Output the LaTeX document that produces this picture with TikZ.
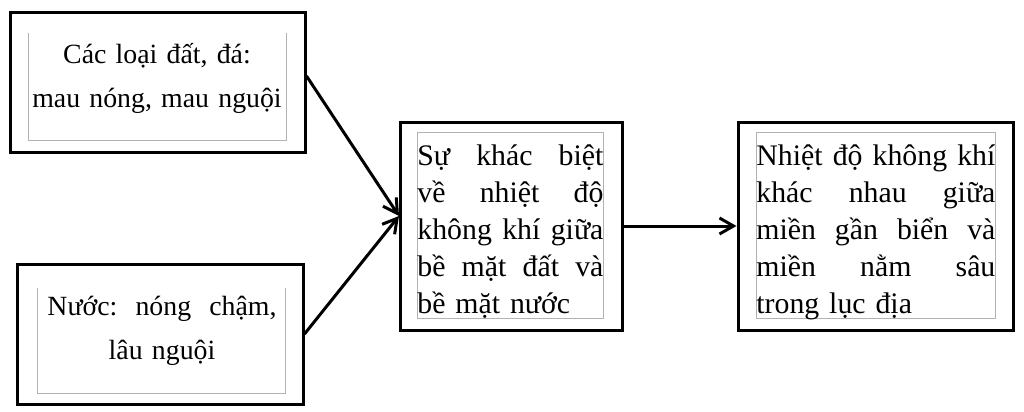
\documentclass[tikz,border=0pt]{standalone}
\usepackage{fontspec}
\setmainfont{Liberation Serif}
\usetikzlibrary{arrows.meta, positioning}

\newcommand{\jline}[2]{\makebox[#1][l]{#2}}

\begin{document}
\begin{tikzpicture}[x=0.5pt, y=-0.5pt,
  frame/.style = {draw, line width=1.5pt, rectangle, inner sep=0pt},
  inner/.style = {draw=gray!60, line width=0.4pt},
  sidetext/.style = {inner sep=0pt, align=center, font=\fontsize{13.9}{22}\selectfont},
  boxtext/.style = {inner sep=0pt, align=left, anchor=base west, font=\fontsize{14.9}{18.5}\selectfont},
  link/.style = {line width=1.5pt, -{Straight Barb[length=7pt, width=8pt, line width=1.5pt]}}]

\useasboundingbox (0,0) rectangle (1024,412);

% outer boxes
\node[frame, minimum width=147.5pt, minimum height=70pt] (soil) at (157.5,82) {};
\node[frame, minimum width=143pt, minimum height=70pt] (water) at (160,334) {};
\node[frame, minimum width=111pt, minimum height=104pt] (diff) at (511,226) {};
\node[frame, minimum width=137.5pt, minimum height=104pt] (temp) at (875.5,226) {};

% text frames
\draw[inner] (28,33) -- (28,140) -- (286,140) -- (286,33);
\draw[inner] (37,288) -- (37,393) -- (285,393) -- (285,288);
\draw[inner] (417,132) rectangle (603,318);
\draw[inner] (756,132) rectangle (995,318);

% texts
\node[sidetext, text width=140pt, anchor=base] (soilText) at (157,63)
  {Các loại đất, đá:\\ mau nóng, mau nguội};
\node[sidetext, text width=124pt, anchor=base] (waterText) at (162,315)
  {\jline{114.5pt}{Nước:\hfill nóng\hfill chậm,}\\ lâu nguội};
\node[boxtext, text width=93pt] (diffText) at (417,165)
  {\jline{93pt}{Sự\hfill khác\hfill biệt}\\
   \jline{93pt}{về\hfill nhiệt\hfill độ}\\
   \jline{93pt}{không\hfill khí\hfill giữa}\\
   \jline{93pt}{bề\hfill mặt\hfill đất\hfill và}\\
   bề mặt nước};
\node[boxtext, text width=119.5pt] (tempText) at (756,165)
  {\jline{119.5pt}{Nhiệt\hfill độ\hfill không\hfill khí}\\
   \jline{119.5pt}{khác\hfill nhau\hfill giữa}\\
   \jline{119.5pt}{miền\hfill gần\hfill biển\hfill và}\\
   \jline{119.5pt}{miền\hfill nằm\hfill sâu}\\
   trong lục địa};

% arrows
\coordinate (merge) at (399,216);
\draw[link] (soil.east) ++(0,-6) -- (merge);
\draw[link] (water.east) -- (merge);
\draw[link] (diff.east) -- (temp.west);

\end{tikzpicture}
\end{document}
